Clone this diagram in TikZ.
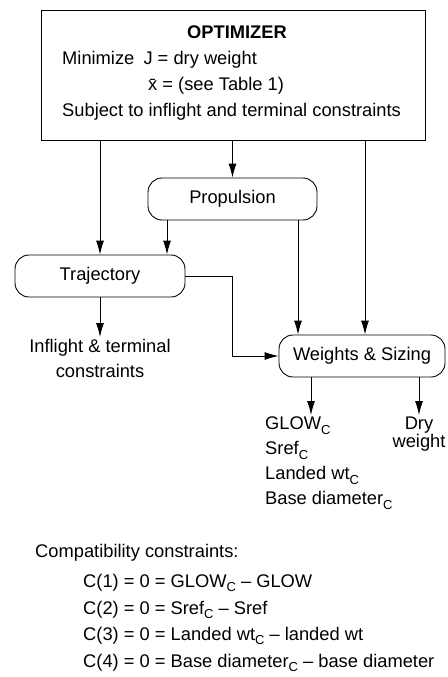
\documentclass[tikz,border=0pt]{standalone}
\usepackage{fontspec}
\setmainfont{Liberation Sans}
\usepackage{tikz}
\usetikzlibrary{arrows.meta,positioning,calc}
\newcommand{\subC}{\raisebox{-0.45ex}{\fontsize{13}{13}\selectfont C}}

\begin{document}
\begin{tikzpicture}[
    x=1pt, y=-1pt,
    font=\fontsize{18.3}{25}\selectfont,
    blk/.style={draw, line width=0.9pt, rounded corners=14pt, minimum height=42pt, inner sep=0pt},
    lab/.style={inner sep=0pt, anchor=west},
    arr/.style={-{Latex[length=14pt, width=8pt]}, line width=0.9pt}
]
\useasboundingbox (0,0) rectangle (447,677);

% optimizer block
\node[draw, line width=0.9pt, minimum width=384pt, minimum height=130pt, inner sep=0pt] (opt) at (233,75) {};
\node[font=\fontsize{18.3}{25}\selectfont\bfseries] (optT) at (237,32) {OPTIMIZER};
\node[lab] (optJ) at (62,60) {Minimize\enspace J = dry weight};
\node[lab] (optX) at (148,86) {\={x} = (see Table 1)};
\node[lab] (optS) at (62,112) {Subject to inflight and terminal constraints};

% analyses
\node[blk, minimum width=169pt] (prop) at (232.5,199) {Propulsion};
\node[blk, minimum width=170pt] (traj) at (100,276) {Trajectory};
\node[blk, minimum width=166pt] (wts) at (362,356) {Weights \& Sizing};

% outputs
\node[align=center, inner sep=2pt, anchor=north] (infl) at (100,337) {Inflight \& terminal\\constraints};
\node[lab, anchor=north west, align=left, inner sep=2pt] (outs) at (263,415) {GLOW\subC\\Sref\subC\\Landed wt\subC\\Base diameter\subC};
\node[align=center, inner sep=2pt, anchor=north, font=\fontsize{18.3}{17}\selectfont] (dry) at (419,415) {Dry\\weight};

% compatibility constraints
\node[lab] (cmpT) at (35,553) {Compatibility constraints:};
\node[lab] (cmp1) at (83,583) {C(1) = 0 = GLOW\subC{} -- GLOW};
\node[lab] (cmp2) at (83,610) {C(2) = 0 = Sref\subC{} -- Sref};
\node[lab] (cmp3) at (83,636) {C(3) = 0 = Landed wt\subC{} -- landed wt};
\node[lab] (cmp4) at (83,663) {C(4) = 0 = Base diameter\subC{} -- base diameter};

% connectors
\draw[arr] (opt.south -| traj) -- (traj.north);
\draw[arr] (opt.south -| prop) -- (prop.north);
\draw[arr] ([xshift=132pt]opt.south) -- ([xshift=132pt]opt.south |- wts.north);
\draw[arr] ([xshift=-65.5pt]prop.south) -- ([xshift=-65.5pt]prop.south |- traj.north);
\draw[arr] ([xshift=65.5pt]prop.south) -- ([xshift=65.5pt]prop.south |- wts.north);
\draw[arr] (traj.east) -- (traj.east -| prop.south) |- (wts.west);
\draw[arr] (traj.south) -- (infl.north);
\draw[arr] ([xshift=-51pt]wts.south) -- ([xshift=-51pt]wts.south |- outs.north);
\draw[arr] (wts.south -| dry) -- (dry.north);
\end{tikzpicture}
\end{document}
